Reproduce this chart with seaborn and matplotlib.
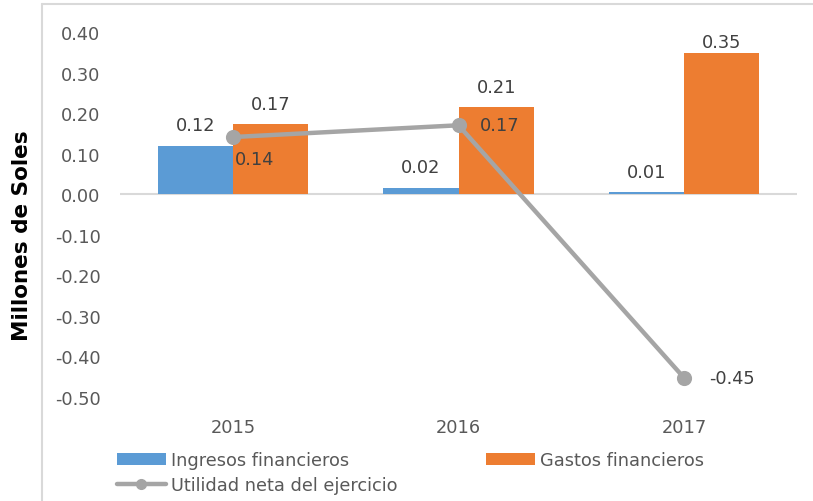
import matplotlib
matplotlib.use("Agg")
import matplotlib.pyplot as plt
import seaborn as sns
import numpy as np
import pandas as pd
from matplotlib.lines import Line2D
from matplotlib.patches import Patch

# ---- data ----
years = ["2015", "2016", "2017"]
ingresos = [0.12, 0.016, 0.006]
gastos = [0.173, 0.215, 0.348]
utilidad = [0.141, 0.170, -0.453]
series_names = ["Ingresos financieros", "Gastos financieros", "Utilidad neta del ejercicio"]
y_ticks = [-0.5, -0.4, -0.3, -0.2, -0.1, 0.0, 0.1, 0.2, 0.3, 0.4]
y_label = "Millones de Soles"

# ---- style ----
sns.set_theme(style="white")
plt.rcParams["font.family"] = ["DejaVu Sans"]
plt.rcParams["axes.unicode_minus"] = False

BLUE = "#5B9BD5"
ORANGE = "#ED7D31"
GRAY = "#A5A5A5"
TICK_C = "#595959"
LABEL_C = "#404040"
FS = 12.8

W, H = 813, 502
fig = plt.figure(figsize=(W / 100, H / 100), dpi=100)
ax = fig.add_axes([120 / W, 104 / H, 677 / W, 365 / H])

df = pd.DataFrame({
    "Año": years * 2,
    "valor": ingresos + gastos,
    "serie": [series_names[0]] * 3 + [series_names[1]] * 3,
})

sns.barplot(data=df, x="Año", y="valor", hue="serie", order=years,
            hue_order=series_names[:2], palette=[BLUE, ORANGE],
            width=0.667, gap=0, saturation=1, linewidth=0,
            legend=False, ax=ax, zorder=2)

sns.pointplot(x=years, y=utilidad, order=years, color=GRAY, markers="o",
              markersize=8.5, linewidth=3.2, errorbar=None, ax=ax)
for ln in ax.lines:
    ln.set_zorder(4)
for coll in ax.collections:
    coll.set_zorder(4)

ax.set_xlim(-0.5, 2.5)
ax.set_ylim(-0.5, 0.4)
ax.axhline(0, color="#D9D9D9", lw=1.5, zorder=1)
for s in ax.spines.values():
    s.set_visible(False)
ax.set_yticks(y_ticks)
ax.yaxis.set_major_formatter(matplotlib.ticker.FormatStrFormatter("%.2f"))
ax.tick_params(axis="y", length=0, pad=14, labelsize=FS, labelcolor=TICK_C)
ax.tick_params(axis="x", length=0, pad=15, labelsize=FS, labelcolor=TICK_C)
ax.set_xlabel("")
ax.set_ylabel("")
ax.grid(False)

# bar labels
bw = 0.667 / 2
for i in range(3):
    for j, vals in enumerate([ingresos, gastos]):
        v = vals[i]
        x = i - bw / 2 + j * bw
        ax.text(x, min(v + 0.050, 0.375), f"{v:.2f}", ha="center", va="center",
                fontsize=FS, color=LABEL_C, zorder=5)

# line labels
offsets = [(2, -22), (21, 0), (25, 0)]
for i, v in enumerate(utilidad):
    ax.annotate(f"{v:.2f}", (i, v), xytext=offsets[i], textcoords="offset pixels",
                ha="left", va="center", fontsize=FS, color=LABEL_C, zorder=5)

# y label
fig.text(22 / W, 1 - 236 / H, y_label, rotation=90, ha="center", va="center",
         fontsize=15.5, fontweight="bold", color="black")

# chart border
fig.add_artist(Line2D([42 / W, 42 / W], [0, 1 - 5 / H], transform=fig.transFigure,
                      color="#D9D9D9", lw=1.5))
fig.add_artist(Line2D([42 / W, 1], [1 - 5 / H, 1 - 5 / H], transform=fig.transFigure,
                      color="#D9D9D9", lw=1.5))

# legends
h_ing = Patch(facecolor=BLUE, edgecolor="none")
h_gas = Patch(facecolor=ORANGE, edgecolor="none")
h_uti = Line2D([], [], color=GRAY, lw=3.2, marker="o", markersize=7)
leg_kw = dict(frameon=False, fontsize=FS, handlelength=2.75, handletextpad=0.3,
              borderpad=0, borderaxespad=0, labelspacing=0.4, loc="upper left",
              labelcolor=TICK_C)
leg1 = fig.legend([h_ing, h_uti], [series_names[0], series_names[2]],
                  bbox_to_anchor=(117 / W, 1 - 452 / H), **leg_kw)
leg2 = fig.legend([h_gas], [series_names[1]],
                  bbox_to_anchor=(486 / W, 1 - 452 / H), **leg_kw)

fig.savefig("out.png", dpi=100)
